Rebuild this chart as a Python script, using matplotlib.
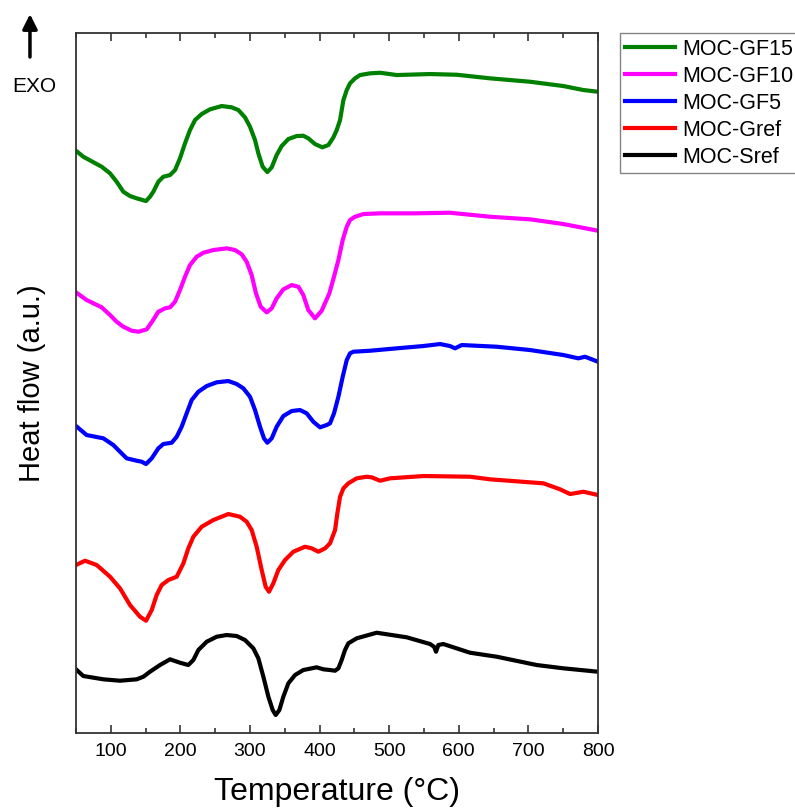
# DSC curves of MOC samples
import matplotlib
matplotlib.use('Agg')
import matplotlib.pyplot as plt
from matplotlib.ticker import MultipleLocator

plt.rcParams['font.family'] = ['Liberation Sans', 'DejaVu Sans']

# temperature (°C) / heat flow (a.u., curves stacked)
t_gf15 = [50, 60.5, 86.9, 98.9, 108.4, 118, 127.6, 137.2, 150.6, 156.3, 161.1, 168.3, 175.5, 185.1,
          192.3, 199.4, 206.6, 213.8, 221, 230.6, 242.5, 259.3, 273.7, 283.3, 292.8, 300, 307.2,
          312, 318.2, 324.9, 331.2, 338.3, 345.5, 355.1, 367.1, 376.6, 383.8, 393.4, 403.9, 412.6,
          419.7, 424.6, 429.4, 434.2, 439, 443.7, 450.9, 458.1, 472.5, 486.9, 510.8, 558.7, 597,
          644.9, 702.4, 750.3, 779, 800]
y_gf15 = [58.23, 57.63, 56.63, 55.97, 55.13, 54.13, 53.7, 53.47, 53.2, 53.63, 54.13, 55.13, 55.63,
          55.8, 56.3, 57.47, 58.97, 60.3, 61.3, 61.9, 62.37, 62.7, 62.57, 62.3, 61.57, 60.63, 59.3,
          57.97, 56.63, 56.1, 56.57, 57.8, 58.7, 59.4, 59.7, 59.73, 59.47, 58.9, 58.57, 58.8,
          59.55, 60.3, 61.3, 63.3, 64.3, 64.97, 65.47, 65.8, 65.97, 66.03, 65.8, 65.9, 65.83,
          65.47, 65.13, 64.7, 64.3, 64.13]

t_gf10 = [50, 65.3, 86.9, 98.9, 108.4, 118, 130, 139.6, 151.6, 160.2, 168.3, 177.9, 185.1, 192.3,
          199.4, 206.6, 213.8, 223.4, 233, 247.3, 266.5, 278.5, 288.1, 295.2, 302.4, 308.6, 315.4,
          324, 331.2, 338.3, 347.9, 359.9, 369.5, 376.6, 383.8, 393.4, 403, 414, 420.7, 427,
          433.2, 439, 443.7, 450.9, 462.9, 486.9, 534.8, 587.4, 644.9, 702.4, 750.3, 800]
y_gf10 = [44.07, 43.3, 42.57, 41.8, 41.13, 40.63, 40.23, 40.13, 40.37, 41.23, 42.13, 42.47, 42.57,
          43.13, 44.3, 45.63, 46.8, 47.63, 48.03, 48.3, 48.47, 48.3, 47.87, 47.13, 45.8, 43.97,
          42.63, 42.07, 42.47, 43.47, 44.37, 44.8, 44.63, 43.8, 42.3, 41.47, 42.23, 43.97, 45.63,
          47.3, 49.3, 50.63, 51.3, 51.63, 51.9, 51.97, 51.97, 52.03, 51.63, 51.37, 50.9, 50.23]

t_gf5 = [50, 65.3, 89.3, 103.6, 113.2, 122.8, 137.2, 144.4, 150.6, 158.8, 168.3, 175.5, 187.5,
         194.7, 201.8, 209, 216.2, 225.8, 237.8, 252.1, 268.9, 280.9, 290.4, 300, 307.2, 314.4,
         320.1, 324.9, 331.2, 338.3, 347.9, 359.9, 371.9, 381.4, 391, 400.6, 410.2, 415, 420.7,
         427, 433.2, 439, 443.7, 448.5, 472.5, 510.8, 549.1, 573.1, 587.4, 594.6, 604.2, 654.5,
         702.4, 750.3, 771.8, 781.4, 800]
y_gf5 = [30.7, 29.8, 29.47, 28.8, 28.13, 27.47, 27.23, 27.13, 26.9, 27.47, 28.47, 28.9, 29.03,
         29.63, 30.63, 31.97, 33.3, 34.13, 34.7, 35.07, 35.2, 34.9, 34.47, 33.63, 32.3, 30.63,
         29.47, 29.03, 29.47, 30.63, 31.7, 32.2, 32.3, 31.97, 31.13, 30.57, 30.8, 30.97, 31.97,
         33.63, 35.63, 37.3, 37.97, 38.13, 38.23, 38.47, 38.7, 38.9, 38.7, 38.47, 38.8, 38.63,
         38.3, 37.8, 37.47, 37.63, 37.13]

t_gref = [50, 63, 79.7, 98.9, 113.2, 127.6, 142, 150.6, 158.8, 165.9, 173.1, 182.7, 194.7, 204.3,
          211.4, 218.6, 230.6, 247.3, 268.9, 285.6, 295.2, 302.4, 309.6, 316.8, 322.5, 327.3,
          333.5, 340.7, 350.3, 362.3, 379, 388.6, 398.2, 407.8, 415, 422.2, 425.5, 429.4, 434.2,
          441.3, 453.3, 467.7, 474.9, 486.9, 501.2, 549.1, 616.2, 644.9, 721.6, 745.5, 759.9, 779,
          800]
y_gref = [16.8, 17.23, 16.8, 15.63, 14.47, 12.8, 11.63, 11.23, 12.3, 13.8, 14.8, 15.3, 15.63,
          16.97, 18.47, 19.63, 20.63, 21.3, 21.9, 21.63, 21.13, 20.3, 18.63, 16.3, 14.63, 14.13,
          14.97, 16.3, 17.3, 18.13, 18.63, 18.47, 18.13, 18.47, 18.97, 20.3, 21.97, 23.63, 24.47,
          24.97, 25.47, 25.63, 25.57, 25.23, 25.47, 25.7, 25.63, 25.37, 24.97, 24.37, 23.9, 24.13,
          23.8]

t_sref = [50, 60.5, 89.3, 113.2, 137.2, 146.8, 156.3, 170.7, 185.1, 199.4, 211.4, 218.6, 225.8,
          237.8, 252.1, 266.5, 280.9, 292.8, 304.8, 312, 319.2, 326.4, 332.6, 336.9, 342.2, 347.9,
          355.1, 364.7, 376.6, 395.8, 405.4, 415, 422.2, 427, 431.7, 436.5, 441.3, 453.3, 482,
          525.2, 558.7, 564.4, 567.3, 570.6, 577.8, 616.1, 654.5, 711.9, 750.3, 800]
y_sref = [6.37, 5.7, 5.37, 5.23, 5.37, 5.63, 6.13, 6.8, 7.37, 7.03, 6.8, 7.3, 8.3, 9.13, 9.63, 9.8,
          9.7, 9.3, 8.47, 7.47, 5.63, 3.63, 2.3, 1.8, 2.3, 3.63, 4.97, 5.8, 6.3, 6.57, 6.37, 6.3,
          6.23, 6.47, 7.3, 8.3, 8.97, 9.47, 10.03, 9.57, 8.9, 8.63, 8.13, 8.8, 8.9, 8.03, 7.63,
          6.8, 6.47, 6.13]

series = [
    ('MOC-GF15', t_gf15, y_gf15, '#008000'),
    ('MOC-GF10', t_gf10, y_gf10, '#ff00ff'),
    ('MOC-GF5', t_gf5, y_gf5, '#0000ff'),
    ('MOC-Gref', t_gref, y_gref, '#ff0000'),
    ('MOC-Sref', t_sref, y_sref, '#000000'),
]

fig = plt.figure(figsize=(7.95, 8.08), dpi=100)
ax = fig.add_axes([0.0956, 0.0928, 0.6566, 0.8663])

for name, t, y, c in series:
    ax.plot(t, y, color=c, lw=3, label=name, solid_joinstyle='round')

ax.set_xlim(50, 800)
ax.set_ylim(0, 70)
ax.xaxis.set_major_locator(MultipleLocator(100))
ax.xaxis.set_minor_locator(MultipleLocator(50))
ax.set_xticks(range(100, 801, 100))
ax.tick_params(axis='x', which='both', direction='in', top=True, labelsize=14, width=1.2,
               color='#333333', pad=7)
ax.tick_params(axis='x', which='major', length=6)
ax.tick_params(axis='x', which='minor', length=3.5)
ax.set_yticks([])
for s in ax.spines.values():
    s.set_color('#333333')
    s.set_linewidth(1.3)

ax.set_xlabel('Temperature (°C)', fontsize=23)
ax.xaxis.set_label_coords(0.5, -0.063)
ax.set_ylabel('Heat flow (a.u.)', fontsize=21)
ax.yaxis.set_label_coords(-0.058, 0.5)

# EXO arrow
fig.text(0.015, 0.886, 'EXO', fontsize=15)
ax.annotate('', xy=(0.0377, 0.986), xytext=(0.0377, 0.926), xycoords='figure fraction',
            textcoords='figure fraction',
            arrowprops=dict(arrowstyle='-|>', lw=2.5, color='black', mutation_scale=22))

fig.legend(loc='upper left', bbox_to_anchor=(0.78, 0.959), fontsize=15.5, frameon=True,
           fancybox=False, edgecolor='#666666', handlelength=2.3, handletextpad=0.35,
           labelspacing=0.28, borderpad=0.25, borderaxespad=0)

fig.savefig('out.png', dpi=100)
